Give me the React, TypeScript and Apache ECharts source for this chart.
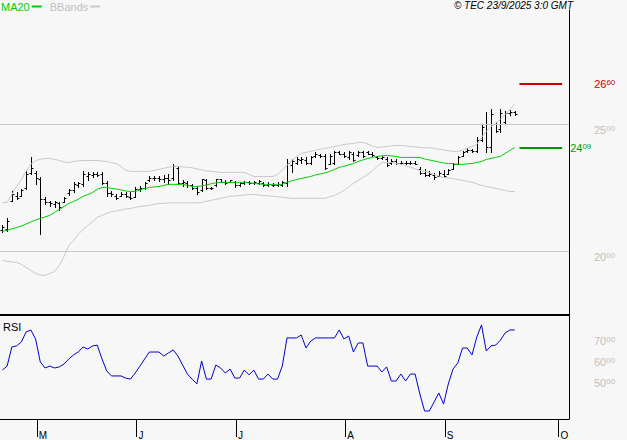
import React, { useEffect, useRef } from "react";
import * as echarts from "echarts";

// ---- data (trading-day index 0..108) ----
const openP = [
  20.85, 20.9, 22.0, 22.2, 22.2, 22.5, 23.1, 23.1, 22.85, 22.05,
  21.95, 21.85, 21.9, 21.95, 22.3, 22.4, 22.6, 22.65, 22.95, 23.0,
  23.05, 23.05, 22.7, 22.3, 22.2, 22.2, 22.25, 22.15, 22.15, 22.45,
  22.5, 22.8, 22.9, 22.9, 22.85, 22.9, 22.9, 23.3, 22.7, 22.7,
  22.6, 22.5, 22.4, 22.8, 22.5, 22.6, 22.85, 22.75, 22.75, 22.75,
  22.6, 22.68, 22.72, 22.7, 22.7, 22.7, 22.6, 22.62, 22.6, 22.6,
  22.7, 23.4, 23.5, 23.6, 23.6, 23.5, 23.75, 23.8, 23.75, 23.45,
  23.5, 23.9, 23.85, 23.7, 23.85, 23.8, 23.9, 23.9, 23.85, 23.7,
  23.66, 23.65, 23.5, 23.55, 23.5, 23.5, 23.48, 23.5, 23.25, 23.1,
  23.0, 23.0, 22.95, 23.05, 23.05, 23.25, 23.45, 23.75, 23.95, 24.0,
  23.95, 24.4, 25.0, 24.1, 25.0, 24.8, 25.1, 25.45, 25.5,
];
const highP = [
  21.06, 21.3, 22.36, 22.32, 22.44, 23.15, 23.7, 23.15, 22.91, 22.13,
  21.97, 21.97, 21.93, 22.13, 22.44, 22.72, 22.72, 23.15, 23.11, 23.11,
  23.11, 23.11, 22.76, 22.36, 22.28, 22.32, 22.32, 22.32, 22.52, 22.56,
  22.72, 22.95, 22.95, 22.95, 22.99, 23.03, 23.46, 23.35, 22.83, 22.76,
  22.64, 22.56, 22.87, 22.87, 22.52, 22.87, 22.87, 22.8, 22.83, 22.76,
  22.72, 22.76, 22.76, 22.76, 22.83, 22.72, 22.72, 22.68, 22.72, 22.76,
  23.62, 23.62, 23.7, 23.7, 23.7, 23.74, 23.9, 23.82, 23.82, 23.82,
  23.94, 23.94, 23.9, 23.94, 23.9, 23.94, 23.94, 23.94, 23.9, 23.74,
  23.74, 23.7, 23.62, 23.62, 23.54, 23.54, 23.54, 23.54, 23.31, 23.23,
  23.15, 23.07, 23.15, 23.19, 23.23, 23.5, 23.74, 23.94, 24.06, 24.02,
  24.49, 25.0, 25.47, 25.59, 25.08, 25.59, 25.51, 25.55, 25.51,
];
const lowP = [
  20.75, 20.79, 21.97, 22.05, 22.17, 22.44, 23.03, 22.64, 20.67, 21.85,
  21.77, 21.73, 21.65, 21.93, 22.24, 22.32, 22.52, 22.56, 22.83, 22.91,
  22.95, 22.64, 22.17, 22.17, 22.05, 22.17, 22.13, 22.05, 22.13, 22.36,
  22.44, 22.76, 22.83, 22.76, 22.72, 22.64, 22.83, 22.64, 22.56, 22.52,
  22.44, 22.28, 22.36, 22.44, 22.44, 22.56, 22.72, 22.64, 22.72, 22.52,
  22.56, 22.64, 22.64, 22.64, 22.64, 22.56, 22.56, 22.56, 22.56, 22.56,
  22.56, 23.11, 23.43, 23.5, 23.43, 23.46, 23.7, 23.7, 23.23, 23.43,
  23.43, 23.82, 23.7, 23.62, 23.54, 23.74, 23.7, 23.82, 23.74, 23.62,
  23.62, 23.35, 23.43, 23.43, 23.46, 23.46, 23.43, 23.43, 23.03, 22.95,
  22.95, 22.87, 22.95, 22.91, 23.03, 23.23, 23.43, 23.74, 23.9, 23.9,
  23.9, 24.33, 23.9, 23.9, 24.69, 24.69, 25.0, 25.35, 25.35,
];
const closeP = [
  20.95, 21.2, 22.25, 22.1, 22.4, 23.05, 23.3, 22.9, 22.05, 21.95,
  21.9, 21.95, 21.75, 22.1, 22.4, 22.65, 22.7, 23.05, 23.05, 23.05,
  23.0, 22.7, 22.3, 22.25, 22.1, 22.25, 22.2, 22.1, 22.45, 22.5,
  22.68, 22.9, 22.88, 22.85, 22.9, 22.8, 23.35, 22.7, 22.75, 22.6,
  22.5, 22.35, 22.85, 22.5, 22.48, 22.85, 22.75, 22.7, 22.8, 22.6,
  22.68, 22.72, 22.7, 22.74, 22.78, 22.6, 22.65, 22.6, 22.65, 22.72,
  23.5, 23.55, 23.65, 23.65, 23.5, 23.7, 23.85, 23.75, 23.3, 23.75,
  23.9, 23.85, 23.75, 23.9, 23.6, 23.9, 23.75, 23.85, 23.78, 23.66,
  23.7, 23.4, 23.55, 23.5, 23.5, 23.48, 23.5, 23.46, 23.1, 23.0,
  23.05, 22.92, 23.1, 22.95, 23.2, 23.45, 23.7, 23.9, 24.0, 23.95,
  24.4, 24.9, 24.1, 25.4, 24.75, 25.45, 25.45, 25.5, 25.4,
];
const ma20 = [
  20.79, 20.83, 20.89, 20.94, 21.0, 21.08, 21.16, 21.24, 21.3, 21.36,
  21.42, 21.54, 21.65, 21.77, 21.89, 21.97, 22.05, 22.17, 22.24, 22.32,
  22.44, 22.52, 22.52, 22.48, 22.46, 22.42, 22.38, 22.36, 22.36, 22.42,
  22.48, 22.52, 22.54, 22.56, 22.6, 22.64, 22.64, 22.64, 22.64, 22.6,
  22.56, 22.56, 22.58, 22.62, 22.66, 22.7, 22.72, 22.72, 22.72, 22.72,
  22.72, 22.72, 22.7, 22.68, 22.66, 22.64, 22.64, 22.64, 22.64, 22.64,
  22.72, 22.78, 22.83, 22.87, 22.91, 22.95, 23.01, 23.05, 23.09, 23.15,
  23.23, 23.31, 23.35, 23.41, 23.46, 23.54, 23.6, 23.66, 23.7, 23.74,
  23.76, 23.78, 23.76, 23.74, 23.7, 23.7, 23.7, 23.7, 23.7, 23.64,
  23.6, 23.56, 23.52, 23.48, 23.46, 23.45, 23.43, 23.43, 23.45, 23.46,
  23.5, 23.54, 23.62, 23.66, 23.7, 23.74, 23.86, 23.98, 24.09,
];
const bbUpper = [
  21.93, 21.93, 22.24, 22.56, 22.83, 23.15, 23.43, 23.58, 23.62, 23.66,
  23.66, 23.62, 23.58, 23.52, 23.5, 23.54, 23.56, 23.58, 23.58, 23.58,
  23.58, 23.56, 23.54, 23.5, 23.46, 23.35, 23.19, 23.15, 23.15, 23.15,
  23.15, 23.15, 23.19, 23.23, 23.27, 23.31, 23.35, 23.35, 23.33, 23.31,
  23.29, 23.25, 23.21, 23.17, 23.15, 23.13, 23.11, 23.11, 23.11, 23.11,
  23.11, 23.11, 23.03, 22.95, 22.95, 22.95, 22.95, 22.95, 23.03, 23.19,
  23.39, 23.58, 23.74, 23.86, 23.9, 23.94, 23.98, 24.02, 24.06, 24.09,
  24.13, 24.17, 24.21, 24.23, 24.25, 24.29, 24.29, 24.23, 24.15, 24.09,
  24.11, 24.13, 24.15, 24.17, 24.17, 24.15, 24.13, 24.11, 24.09, 24.07,
  24.09, 24.06, 24.02, 24.0, 23.96, 23.94, 23.94, 23.98, 24.06, 24.13,
  24.21, 24.49, 24.72, 24.92, 25.04, 25.2, 25.39, 25.59, 25.79,
];
const bbLower = [
  19.65, 19.61, 19.59, 19.57, 19.49, 19.37, 19.25, 19.13, 19.07, 19.06,
  19.13, 19.21, 19.45, 19.8, 20.24, 20.43, 20.67, 20.87, 21.02, 21.18,
  21.34, 21.42, 21.5, 21.56, 21.6, 21.63, 21.67, 21.69, 21.73, 21.77,
  21.79, 21.81, 21.85, 21.89, 21.89, 21.91, 21.91, 21.91, 21.91, 21.91,
  21.91, 21.91, 21.93, 21.97, 22.01, 22.05, 22.09, 22.13, 22.17, 22.19,
  22.2, 22.22, 22.24, 22.24, 22.22, 22.2, 22.19, 22.17, 22.15, 22.13,
  22.11, 22.09, 22.09, 22.09, 22.09, 22.09, 22.09, 22.09, 22.09, 22.15,
  22.2, 22.3, 22.4, 22.54, 22.68, 22.8, 22.91, 23.03, 23.17, 23.35,
  23.5, 23.5, 23.5, 23.46, 23.43, 23.37, 23.31, 23.25, 23.19, 23.15,
  23.11, 23.03, 22.97, 22.91, 22.89, 22.87, 22.83, 22.8, 22.76, 22.72,
  22.66, 22.6, 22.56, 22.52, 22.48, 22.44, 22.4, 22.36, 22.36,
];
const rsi = [
  53.3, 55.2, 64.3, 64.8, 66.7, 71.4, 72.4, 68.1, 57.1, 54.3,
  55.2, 54.3, 54.8, 56.2, 58.6, 60.5, 61.9, 64.3, 63.3, 64.8,
  65.2, 58.6, 52.9, 50.5, 50.5, 50.5, 49.5, 49.0, 51.9, 55.2,
  58.6, 61.9, 61.9, 61.9, 60.0, 61.4, 62.9, 60.0, 55.7, 51.4,
  49.0, 46.7, 57.6, 49.0, 49.0, 55.7, 54.3, 51.9, 53.8, 49.5,
  49.5, 53.3, 51.0, 53.3, 49.0, 49.0, 51.4, 49.0, 49.0, 55.2,
  68.6, 68.6, 68.6, 70.0, 63.8, 67.1, 68.6, 68.6, 68.6, 68.6,
  68.6, 72.4, 68.1, 69.5, 61.9, 66.2, 66.2, 55.2, 55.2, 55.2,
  52.4, 54.8, 48.1, 48.1, 51.4, 48.1, 51.4, 51.4, 41.9, 33.8,
  33.8, 38.1, 42.4, 37.1, 46.7, 53.8, 56.7, 63.8, 63.8, 60.5,
  69.0, 74.8, 62.4, 64.8, 65.2, 67.6, 71.0, 72.4, 72.4,
];
const targetPrice = 26.6;
const priceTickLabels = [20, 25];
const rsiTickLabels = [50, 60, 70];
const monthStartIndex = [8, 29, 50, 73, 94, 118];
const monthLabels = ["M", "J", "J", "A", "S", "O"];
const copyrightText = "© TEC 23/9/2025 3:0 GMT";

const FONT = "'Liberation Sans', Arial, sans-serif";
const GREY = "#c0c0c0";

function richNum(v: number) {
  const s = v.toFixed(2).split(".");
  return `{a|${s[0]}}{b|${s[1]}}`;
}

export default function App() {
  const ref = useRef<HTMLDivElement>(null);
  useEffect(() => {
    if (!ref.current) return;
    const chart = echarts.init(ref.current, null, { renderer: "svg" });
    const monthTickValues = monthStartIndex.map((i) => i - 0.75);
    const lastIdx = closeP.length - 1;
    const lastMA = ma20[ma20.length - 1];
    const ohlc = openP.map((o, i) => [i, o, highP[i], lowP[i], closeP[i]]);
    const labelRich = (color: string) => ({
      a: { fontSize: 11, color, fontFamily: FONT, verticalAlign: "top" },
      b: { fontSize: 8, color, fontFamily: FONT, verticalAlign: "top" },
    });
    const option: any = {
      animation: false,
      backgroundColor: "#f7f7f7",
      textStyle: { fontFamily: FONT },
      title: [
        {
          text: copyrightText,
          right: 54,
          top: 0,
          padding: 0,
          textStyle: { fontSize: 10, fontStyle: "italic", fontWeight: "normal", color: "#000", fontFamily: FONT },
        },
        {
          text: "RSI",
          left: 3,
          top: 321,
          padding: 0,
          textStyle: { fontSize: 11, fontWeight: "normal", color: "#000", fontFamily: FONT },
        },
      ],
      legend: {
        left: 1,
        top: 1,
        padding: 0,
        align: "right",
        icon: "rect",
        itemWidth: 10,
        itemHeight: 2,
        itemGap: 8,
        selectedMode: false,
        textStyle: { fontSize: 11, fontFamily: FONT, padding: [0, -3, 0, 0] },
        data: [
          { name: "MA20", textStyle: { color: "#00cc00" } },
          { name: "BBands", textStyle: { color: GREY } },
        ],
      },
      grid: [
        { left: 0, top: 10, width: 569, height: 305 },
        { left: 0, top: 314, width: 569, height: 105 },
      ],
      xAxis: [
        {
          gridIndex: 0,
          type: "value",
          min: -0.5,
          max: 119.44,
          axisLine: { show: true, onZero: false, lineStyle: { color: "#000", width: 2 } },
          axisTick: { show: false },
          axisLabel: { show: false },
          splitLine: { show: false },
        },
        {
          gridIndex: 1,
          type: "value",
          min: -0.5,
          max: 119.44,
          axisLine: { show: true, onZero: false, lineStyle: { color: "#000", width: 1 } },
          axisTick: { show: true, length: 18, customValues: monthTickValues, lineStyle: { color: "#000" } },
          axisLabel: {
            show: true,
            customValues: monthTickValues,
            align: "left",
            margin: 11,
            padding: [0, 0, 0, 2],
            fontSize: 10,
            color: "#000",
            fontFamily: FONT,
            formatter: (v: number) => {
              const k = monthTickValues.findIndex((m) => Math.abs(m - v) < 1e-6);
              return k >= 0 ? monthLabels[k] : "";
            },
          },
          splitLine: { show: false },
        },
      ],
      yAxis: [
        {
          gridIndex: 0,
          type: "value",
          position: "right",
          min: 17.5,
          max: 29.5,
          interval: 2.5,
          axisLine: { show: true, onZero: false, lineStyle: { color: "#000", width: 1 } },
          axisTick: { show: false },
          splitLine: { show: false },
          axisLabel: {
            show: true,
            margin: 25,
            verticalAlign: "top",
            formatter: (v: number) => (priceTickLabels.some((p) => Math.abs(p - v) < 1e-6) ? richNum(v) : ""),
            rich: labelRich(GREY),
          },
        },
        {
          gridIndex: 1,
          type: "value",
          position: "right",
          min: 30,
          max: 80,
          interval: 10,
          axisLine: { show: true, onZero: false, lineStyle: { color: "#000", width: 1 } },
          axisTick: { show: false },
          splitLine: { show: false },
          axisLabel: {
            show: true,
            margin: 25,
            verticalAlign: "top",
            formatter: (v: number) => (rsiTickLabels.some((p) => Math.abs(p - v) < 1e-6) ? richNum(v) : ""),
            rich: labelRich(GREY),
          },
        },
      ],
      series: [
        {
          name: "BBands",
          type: "line",
          xAxisIndex: 0,
          yAxisIndex: 0,
          data: bbUpper.map((v, i) => [i, v]),
          symbol: "none",
          color: "#c8c8c8",
          lineStyle: { color: "#c8c8c8", width: 1 },
          markLine: {
            silent: true,
            symbol: ["none", "none"],
            label: { show: false },
            lineStyle: { color: "#c8c8c8", width: 1, type: "solid" },
            data: priceTickLabels.map((p) => ({ yAxis: p })),
          },
        },
        {
          name: "BBands",
          type: "line",
          xAxisIndex: 0,
          yAxisIndex: 0,
          data: bbLower.map((v, i) => [i, v]),
          symbol: "none",
          color: "#c8c8c8",
          lineStyle: { color: "#c8c8c8", width: 1 },
        },
        {
          name: "OHLC",
          type: "custom",
          xAxisIndex: 0,
          yAxisIndex: 0,
          data: ohlc,
          encode: { x: 0, y: [1, 2, 3, 4] },
          renderItem: (params: any, api: any) => {
            const i = api.value(0);
            const o = api.coord([i, api.value(1)]);
            const h = api.coord([i, api.value(2)]);
            const l = api.coord([i, api.value(3)]);
            const c = api.coord([i, api.value(4)]);
            const x = Math.round(o[0]) + 0.5;
            const style = { stroke: "#000", lineWidth: 1 };
            const oy = Math.round(o[1]) + 0.5;
            const cy = Math.round(c[1]) + 0.5;
            return {
              type: "group",
              children: [
                { type: "line", shape: { x1: x, y1: Math.round(h[1]), x2: x, y2: Math.round(l[1]) + 1 }, style },
                { type: "line", shape: { x1: x - 2, y1: oy, x2: x, y2: oy }, style },
                { type: "line", shape: { x1: x, y1: cy, x2: x + 2, y2: cy }, style },
              ],
            };
          },
        },
        {
          name: "MA20",
          type: "line",
          xAxisIndex: 0,
          yAxisIndex: 0,
          data: ma20.map((v, i) => [i, v]),
          symbol: "none",
          color: "#00cc00",
          lineStyle: { color: "#00cc00", width: 1 },
          markLine: {
            silent: true,
            symbol: ["none", "none"],
            data: [
              [
                {
                  coord: [lastIdx + 1, targetPrice],
                  lineStyle: { color: "#cc0000", width: 2, type: "solid" },
                  label: {
                    show: true,
                    position: "end",
                    distance: 32,
                    formatter: () => richNum(targetPrice),
                    rich: labelRich("#cc0000"),
                  },
                },
                { coord: [lastIdx + 10, targetPrice] },
              ],
              [
                {
                  coord: [lastIdx + 1, lastMA],
                  lineStyle: { color: "#009900", width: 2, type: "solid" },
                  label: {
                    show: true,
                    position: "end",
                    distance: 8,
                    formatter: () => richNum(lastMA),
                    rich: labelRich("#009900"),
                  },
                },
                { coord: [lastIdx + 10, lastMA] },
              ],
            ],
          },
        },
        {
          name: "RSI",
          type: "line",
          xAxisIndex: 1,
          yAxisIndex: 1,
          data: rsi.map((v, i) => [i, v]),
          symbol: "none",
          color: "#0000cc",
          lineStyle: { color: "#0000cc", width: 1 },
        },
      ],
    };
    chart.setOption(option);
    return () => chart.dispose();
  }, []);
  return (
    <div
      ref={ref}
      style={{ position: "absolute", left: 0, top: 0, width: 627, height: 440 }}
    />
  );
}
